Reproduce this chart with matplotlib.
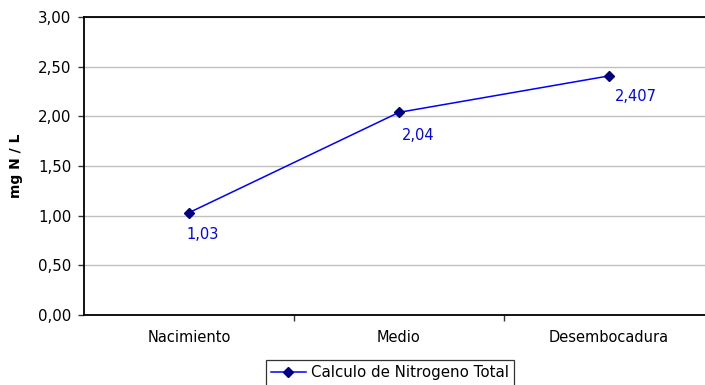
import matplotlib
matplotlib.use("Agg")
import matplotlib.pyplot as plt
from matplotlib.ticker import FuncFormatter, FixedLocator
from matplotlib.lines import Line2D

# Data
sites = ["Nacimiento", "Medio", "Desembocadura"]
nitrogen = [1.03, 2.04, 2.407]
series_name = "Calculo de Nitrogeno Total"
y_label = "mg N / L"

# Label offsets (points) relative to each marker
label_offsets = [(-1.5, -10.5), (2.0, -11.0), (4.5, -9.5)]

plt.rcParams["font.family"] = ["DejaVu Sans"]

fig = plt.figure(figsize=(7.05, 3.85), dpi=100)
ax = fig.add_axes([84 / 705, 1 - 315 / 385, 630 / 705, 298 / 385])

x = list(range(len(sites)))
ax.plot(x, nitrogen, color="#0000ff", lw=1.1, marker="D", markersize=5.5,
        markerfacecolor="#000080", markeredgecolor="#000080", zorder=3)

for xi, v, off in zip(x, nitrogen, label_offsets):
    txt = f"{v:g}".replace(".", ",")
    ax.annotate(txt, (xi, v), xytext=off, textcoords="offset points",
                ha="left", va="top", color="#0000ff", fontsize=10.5)

ax.set_xlim(-0.5, len(sites) - 0.5)
ax.set_ylim(0, 3)
ax.set_yticks([0, 0.5, 1.0, 1.5, 2.0, 2.5, 3.0])
ax.yaxis.set_major_formatter(FuncFormatter(lambda v, p: f"{v:.2f}".replace(".", ",")))
ax.set_xticks(x)
ax.set_xticklabels(sites)
ax.xaxis.set_minor_locator(FixedLocator([0.5, 1.5]))

ax.tick_params(axis="x", which="major", length=0, pad=11, labelsize=10.5, colors="black")
ax.tick_params(axis="x", which="minor", length=4, width=1, direction="out", color="#333333")
ax.tick_params(axis="y", which="major", length=4, width=1, direction="out", pad=5,
               labelsize=10.8, color="#333333")

ax.yaxis.grid(True, color="#c0c0c0", lw=1)
ax.set_axisbelow(True)
for side in ["left", "bottom", "top"]:
    ax.spines[side].set_color("black")
    ax.spines[side].set_linewidth(1.3)
ax.spines["right"].set_visible(False)

ax.set_ylabel(y_label, fontsize=10, fontweight="bold")
ax.yaxis.set_label_coords(-61 / 630, 0.5)

handle = Line2D([], [], color="#0000ff", lw=1.1, marker="D", markersize=5.5,
                markerfacecolor="#000080", markeredgecolor="#000080")
leg = fig.legend([handle], [series_name], loc="upper center",
                 bbox_to_anchor=(390 / 705, 1 - 360 / 385), fontsize=10.8,
                 frameon=True, fancybox=False, handlelength=2.3, handletextpad=0.35,
                 borderpad=0.35, borderaxespad=0)
leg.get_frame().set_edgecolor("black")
leg.get_frame().set_linewidth(0.9)

fig.savefig("out.png", dpi=100)
